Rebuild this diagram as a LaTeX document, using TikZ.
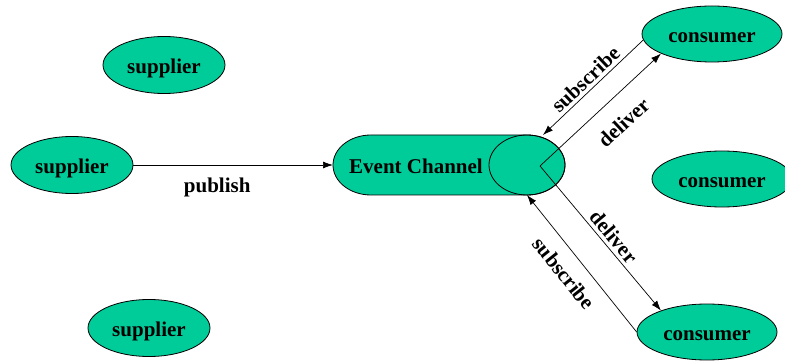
\documentclass[tikz,border=0pt]{standalone}
\usepackage{fontspec}
\setmainfont{Liberation Serif}
\usetikzlibrary{positioning, shapes, arrows.meta}

\definecolor{busgreen}{HTML}{00CC99}

\begin{document}
\begin{tikzpicture}[x=1pt, y=1pt, >={Latex[length=10pt,width=7pt]},
    font=\fontsize{21}{25}\selectfont\bfseries,
    party/.style = {ellipse, draw, fill=busgreen, line width=0.8pt, inner sep=0pt,
        text height=18pt, text depth=1.4pt},
    supplier/.style = {party, minimum width=122pt, minimum height=57pt},
    consumer/.style = {party, minimum width=140pt, minimum height=56pt},
    arrow/.style = {line width=0.7pt, ->}]

    \useasboundingbox (0,0) rectangle (785,362);

    % Suppliers
    \node [supplier] (supTop) at (164,297) {supplier};
    \node [supplier] (supMid) at (72,197) {supplier};
    \node [supplier] (supLow) at (149,34) {supplier};

    % Consumers
    \node [consumer] (conTop) at (712,328) {consumer};
    \node [consumer] (conMid) at (722,183) {consumer};
    \node [consumer] (conLow) at (707,30) {consumer};

    % Event channel
    \draw [fill=busgreen, line width=0.8pt] (527,227) -- (371,227)
        arc [start angle=90, end angle=270, x radius=38, y radius=30]
        -- (527,167) arc [start angle=-90, end angle=90, x radius=38, y radius=30];
    \draw [line width=0.8pt] (527,197) ellipse [x radius=38, y radius=30];
    \node [] (channel) at (416,196) {Event Channel};
    \coordinate (inlet) at (333,197);
    \coordinate (hub) at (540,196);
    \coordinate (subTop) at (543,227);
    \coordinate (subLow) at (527,167);

    % Links
    \draw [arrow] (supMid.east) -- node[below=9pt, pos=0.42] {publish} (inlet);
    \draw [arrow] (conTop.185) -- node[above, sloped] {subscribe} (subTop);
    \draw [arrow] (hub) -- node[below=14pt, sloped, pos=0.55] {deliver} (conTop.201);
    \draw [arrow] (hub) -- node[above, sloped, pos=0.54] {deliver} (conLow.155);
    \draw [arrow] (conLow.west) -- node[below=9pt, sloped, pos=0.52] {subscribe} (subLow);
\end{tikzpicture}
\end{document}
